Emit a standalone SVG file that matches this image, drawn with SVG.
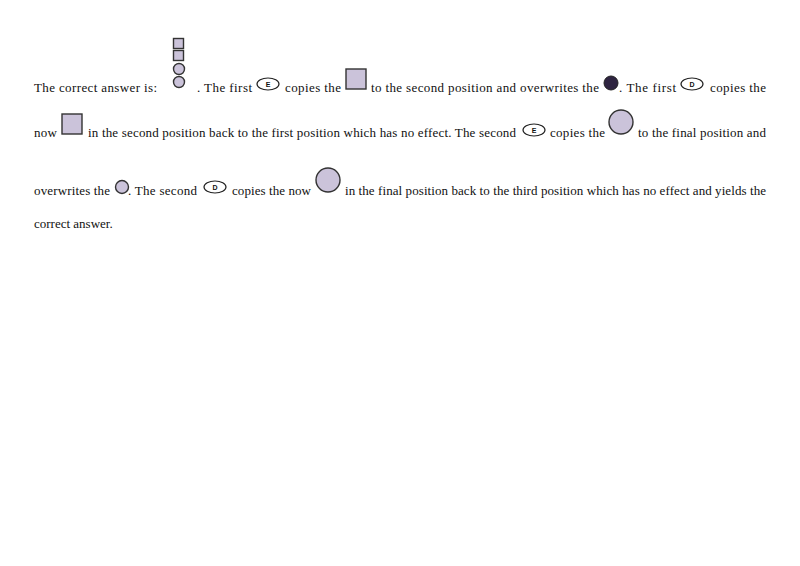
<svg xmlns="http://www.w3.org/2000/svg" width="800" height="566" viewBox="0 0 800 566">
<style>
text{font-family:"Liberation Serif",serif;font-size:13px;fill:#111}
.sh{fill:#cbc3da;stroke:#333;stroke-width:1.4}
.dk{fill:#2e2440;stroke:#222;stroke-width:1}
.el{fill:#fff;stroke:#222;stroke-width:1.2}
.lb{font-family:"Liberation Sans",sans-serif;font-size:7px;font-weight:bold;text-anchor:middle}
</style>
<rect width="800" height="566" fill="#fff"/>
<g id="text">
<text x="34" y="92" textLength="123" lengthAdjust="spacing">The correct answer is:</text>
<text x="197" y="92" textLength="55" lengthAdjust="spacing">. The first</text>
<text x="285" y="92" textLength="56" lengthAdjust="spacing">copies the</text>
<text x="371" y="92" textLength="228" lengthAdjust="spacing">to the second position and overwrites the</text>
<text x="619" y="92" textLength="57" lengthAdjust="spacing">. The first</text>
<text x="710" y="92" textLength="56" lengthAdjust="spacing">copies the</text>
<text x="34" y="137" textLength="23" lengthAdjust="spacing">now</text>
<text x="88" y="137" textLength="428" lengthAdjust="spacing">in the second position back to the first position which has no effect. The second</text>
<text x="550" y="137" textLength="55" lengthAdjust="spacing">copies the</text>
<text x="638" y="137" textLength="128" lengthAdjust="spacing">to the final position and</text>
<text x="34" y="195" textLength="76" lengthAdjust="spacing">overwrites the</text>
<text x="128" y="195" textLength="69" lengthAdjust="spacing">. The second</text>
<text x="232" y="195" textLength="79" lengthAdjust="spacing">copies the now</text>
<text x="345" y="195" textLength="421" lengthAdjust="spacing">in the final position back to the third position which has no effect and yields the</text>
<text x="34" y="228">correct answer.</text>
</g>
<g id="stack">
<rect class="sh" x="173.5" y="38.5" width="10" height="10"/>
<rect class="sh" x="173.5" y="50.5" width="10" height="10"/>
<circle class="sh" cx="179" cy="69" r="5.5"/>
<circle class="sh" cx="179" cy="82" r="5.5"/>
</g>
<g id="e1"><ellipse class="el" cx="268" cy="84" rx="11" ry="6"/><text class="lb" x="268" y="86.5">E</text></g>
<g id="sq1"><rect class="sh" x="346" y="69" width="20" height="20"/></g>
<g id="dark"><circle class="dk" cx="611" cy="83" r="7"/></g>
<g id="d1"><ellipse class="el" cx="692" cy="84" rx="11" ry="6"/><text class="lb" x="692" y="86.5">D</text></g>
<g id="sq2"><rect class="sh" x="62" y="114" width="20" height="20"/></g>
<g id="e2"><ellipse class="el" cx="534" cy="130" rx="11" ry="6"/><text class="lb" x="534" y="132.5">E</text></g>
<g id="c1"><circle class="sh" cx="621" cy="122" r="12"/></g>
<g id="c2"><circle class="sh" cx="122" cy="187" r="6.5"/></g>
<g id="d2"><ellipse class="el" cx="215" cy="187" rx="11" ry="6"/><text class="lb" x="215" y="189.5">D</text></g>
<g id="c3"><circle class="sh" cx="328" cy="180" r="12"/></g>
<g id="connectors"/>
</svg>
